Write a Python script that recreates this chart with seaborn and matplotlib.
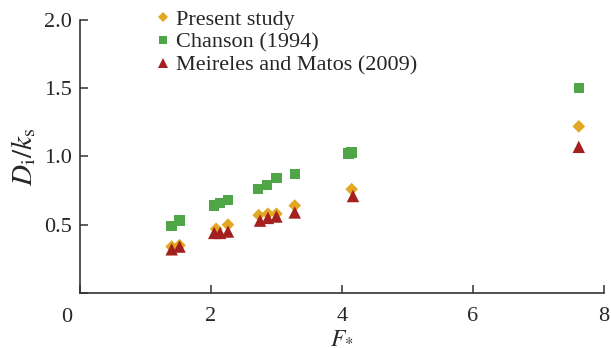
import numpy as np
import pandas as pd
import seaborn as sns
import matplotlib.pyplot as plt

sns.set_style("ticks")
plt.rcParams['font.family'] = ['Liberation Serif', 'DejaVu Serif']
plt.rcParams['mathtext.fontset'] = 'stix'

# data
present_x = [1.40, 1.52, 2.08, 2.26, 2.73, 2.87, 3.00, 3.28, 4.15, 7.62]
present_y = [0.34, 0.35, 0.47, 0.50, 0.57, 0.58, 0.58, 0.64, 0.76, 1.22]

chanson_x = [1.40, 1.52, 2.05, 2.14, 2.26, 2.72, 2.86, 3.00, 3.28, 4.10, 4.15, 7.62]
chanson_y = [0.49, 0.53, 0.64, 0.66, 0.68, 0.76, 0.79, 0.84, 0.87, 1.02, 1.03, 1.50]

meireles_x = [1.40, 1.52, 2.05, 2.14, 2.26, 2.75, 2.87, 3.00, 3.28, 4.17, 7.62]
meireles_y = [0.32, 0.34, 0.44, 0.44, 0.45, 0.53, 0.55, 0.56, 0.59, 0.71, 1.07]

labels = ["Present study", "Chanson (1994)", "Meireles and Matos (2009)"]
colors = {"Present study": "#E2A823", "Chanson (1994)": "#4FA647", "Meireles and Matos (2009)": "#A3201F"}
markers = {"Present study": "D", "Chanson (1994)": "s", "Meireles and Matos (2009)": "^"}
sizes = {"Present study": 42, "Chanson (1994)": 56, "Meireles and Matos (2009)": 80}

# draw order: squares, diamonds, triangles on top
df = pd.concat([
    pd.DataFrame({"F": chanson_x, "D": chanson_y, "src": labels[1]}),
    pd.DataFrame({"F": present_x, "D": present_y, "src": labels[0]}),
    pd.DataFrame({"F": meireles_x, "D": meireles_y, "src": labels[2]}),
], ignore_index=True)

fig = plt.figure(figsize=(6.11, 3.48), dpi=100)
ax = fig.add_axes([0.131, 0.158, 0.857, 0.785])

sns.scatterplot(data=df, x="F", y="D", hue="src", style="src", size="src",
                hue_order=labels, style_order=labels, size_order=labels,
                palette=colors, markers=markers, sizes=sizes,
                linewidth=0, ax=ax, legend=True)

ax.set_xlim(0, 8)
ax.set_ylim(0, 2.0)
ax.set_xticks([0, 2, 4, 6, 8])
ax.set_xticklabels(["", "2", "4", "6", "8"])
ax.set_yticks([0, 0.5, 1.0, 1.5, 2.0])
ax.set_yticklabels(["", "0.5", "1.0", "1.5", "2.0"])
ax.text(-0.2, -0.11, "0", transform=ax.transData, ha="center", va="top", fontsize=16)
ax.tick_params(direction="in", length=6, width=1.1, labelsize=16, color="#333333")
ax.tick_params(axis="x", pad=10)
ax.tick_params(axis="y", pad=6)
for s in ["left", "bottom"]:
    ax.spines[s].set_linewidth(1.2)
    ax.spines[s].set_color("#333333")
sns.despine(ax=ax)

ax.set_xlabel(r"$F_{*}$", fontsize=17, labelpad=1)
ax.set_ylabel(r"$D_{\mathrm{i}}/k_{\mathrm{s}}$", fontsize=21, labelpad=4)

handles, lbls = ax.get_legend_handles_labels()
ax.legend(handles, lbls, loc="upper left", bbox_to_anchor=(0.12, 1.07), frameon=False,
          fontsize=16, handlelength=1.0, handletextpad=0.1, labelspacing=0.1,
          borderaxespad=0, markerscale=0.75)

plt.savefig("out.png", dpi=100)
